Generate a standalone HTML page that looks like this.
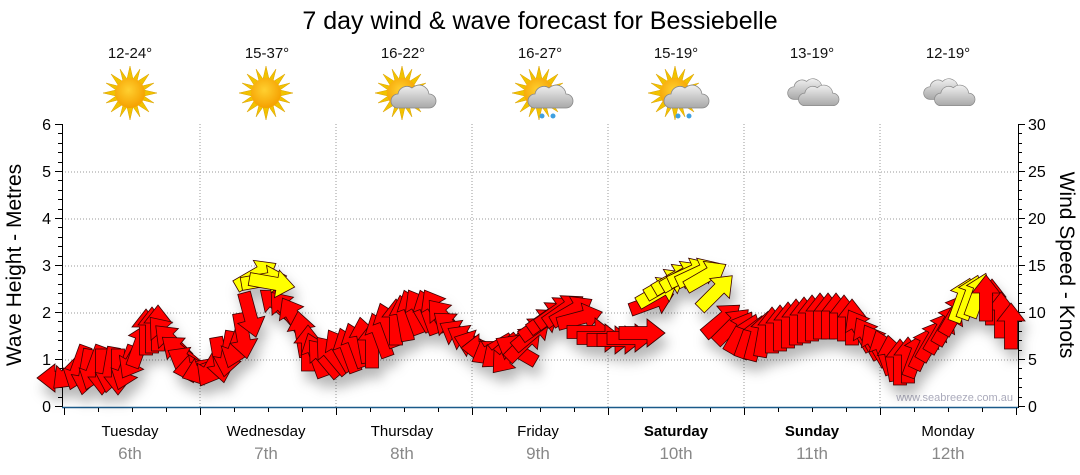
<!DOCTYPE html>
<html><head><meta charset="utf-8"><style>
body{margin:0;background:#fff;width:1080px;height:475px;overflow:hidden}
svg{display:block;font-family:"Liberation Sans","DejaVu Sans",sans-serif}
</style></head><body>
<svg width="1080" height="475" viewBox="0 0 1080 475" xmlns="http://www.w3.org/2000/svg">
<defs>
<radialGradient id="sg" cx="0.45" cy="0.4" r="0.6"><stop offset="0" stop-color="#ffd030"/><stop offset="1" stop-color="#f5a000"/></radialGradient>
<linearGradient id="cg" x1="0" y1="0" x2="0" y2="1"><stop offset="0" stop-color="#f0f0f0"/><stop offset="1" stop-color="#a8a8a8"/></linearGradient>
<g id="sun"><g fill="#f2c200" stroke="#d9a000" stroke-width="0.5">
<polygon points="0,-27 3,-14 -3,-14"/><polygon points="0,27 3,14 -3,14"/><polygon points="-27,0 -14,3 -14,-3"/><polygon points="27,0 14,3 14,-3"/>
<polygon points="19,-19 12,-8 8,-12"/><polygon points="-19,19 -12,8 -8,12"/><polygon points="19,19 8,12 12,8"/><polygon points="-19,-19 -8,-12 -12,-8"/>
<polygon points="10,-24 7,-12 3,-14"/><polygon points="-10,24 -7,12 -3,14"/><polygon points="24,10 12,7 14,3"/><polygon points="-24,-10 -12,-7 -14,-3"/>
<polygon points="-10,-24 -3,-14 -7,-12"/><polygon points="10,24 3,14 7,12"/><polygon points="24,-10 14,-3 12,-7"/><polygon points="-24,10 -14,3 -12,7"/></g>
<circle r="15" fill="url(#sg)"/></g>
<g id="cloud"><path d="M-14,10 a7,7 0 0 1 0,-14 a9,9 0 0 1 14,-6 a10,10 0 0 1 17,6 a7,7 0 0 1 0,14 z" fill="url(#cg)" stroke="#888" stroke-width="0.8"/></g>
<polygon id="ar" points="0,-23 14,-5 6.5,-5 6.5,23 -6.5,23 -6.5,-5 -14,-5" stroke="#3a0000" stroke-width="0.8" stroke-linejoin="miter"/>
<filter id="sh" x="-10%" y="-20%" width="120%" height="160%"><feDropShadow dx="4" dy="10" stdDeviation="6" flood-color="#000" flood-opacity="0.28"/></filter>
</defs>

<text x="540" y="29" text-anchor="middle" font-size="25" fill="#000">7 day wind &amp; wave forecast for Bessiebelle</text>
<g font-size="15" text-anchor="middle" fill="#111">
<text x="130" y="58">12-24°</text><text x="267" y="58">15-37°</text><text x="403" y="58">16-22°</text><text x="540" y="58">16-27°</text><text x="676" y="58">15-19°</text><text x="812" y="58">13-19°</text><text x="948" y="58">12-19°</text>
</g>
<use href="#sun" x="130" y="93"/><use href="#sun" x="266" y="93"/>
<use href="#sun" x="402" y="93"/><use href="#cloud" x="412" y="98"/>
<use href="#sun" x="539" y="93"/><use href="#cloud" x="549" y="98"/><circle cx="542" cy="116" r="2.5" fill="#3fa0e0"/><circle cx="553" cy="116" r="2.5" fill="#3fa0e0"/>
<use href="#sun" x="675" y="93"/><use href="#cloud" x="685" y="98"/><circle cx="678" cy="116" r="2.5" fill="#3fa0e0"/><circle cx="689" cy="116" r="2.5" fill="#3fa0e0"/>
<g transform="translate(812,94) scale(0.9)"><use href="#cloud" x="-6" y="-4"/><use href="#cloud" x="6" y="3"/></g>
<g transform="translate(948,94) scale(0.9)"><use href="#cloud" x="-6" y="-4"/><use href="#cloud" x="6" y="3"/></g>

<g stroke="#999" stroke-dasharray="1,2" stroke-width="1">
<line x1="62" y1="172" x2="1018" y2="172"/><line x1="62" y1="219" x2="1018" y2="219"/><line x1="62" y1="266" x2="1018" y2="266"/><line x1="62" y1="313" x2="1018" y2="313"/><line x1="62" y1="360" x2="1018" y2="360"/>
<line x1="200" y1="124" x2="200" y2="407"/><line x1="336" y1="124" x2="336" y2="407"/><line x1="472" y1="124" x2="472" y2="407"/><line x1="608" y1="124" x2="608" y2="407"/><line x1="744" y1="124" x2="744" y2="407"/><line x1="880" y1="124" x2="880" y2="407"/>
</g>
<line x1="62.5" y1="124" x2="62.5" y2="408" stroke="#000"/>
<line x1="1018.5" y1="124" x2="1018.5" y2="408" stroke="#000"/>
<line x1="62" y1="407.5" x2="1018" y2="407.5" stroke="#1a5a8a" stroke-width="1.5"/>
<g stroke="#000" stroke-width="1">
<path d="M55,124.5H62M55,171.5H62M55,218.5H62M55,265.5H62M55,312.5H62M55,359.5H62M55,406.5H62"/>
<path d="M58,133.5H62M58,143.5H62M58,152.5H62M58,162.5H62M58,180.5H62M58,190.5H62M58,199.5H62M58,209.5H62M58,227.5H62M58,237.5H62M58,246.5H62M58,256.5H62M58,274.5H62M58,284.5H62M58,293.5H62M58,303.5H62M58,321.5H62M58,331.5H62M58,340.5H62M58,350.5H62M58,368.5H62M58,378.5H62M58,387.5H62M58,397.5H62"/>
<path d="M1018,124.5H1025M1018,171.5H1025M1018,218.5H1025M1018,265.5H1025M1018,312.5H1025M1018,359.5H1025M1018,406.5H1025"/>
<path d="M1018,133.5H1022M1018,143.5H1022M1018,152.5H1022M1018,162.5H1022M1018,180.5H1022M1018,190.5H1022M1018,199.5H1022M1018,209.5H1022M1018,227.5H1022M1018,237.5H1022M1018,246.5H1022M1018,256.5H1022M1018,274.5H1022M1018,284.5H1022M1018,293.5H1022M1018,303.5H1022M1018,321.5H1022M1018,331.5H1022M1018,340.5H1022M1018,350.5H1022M1018,368.5H1022M1018,378.5H1022M1018,387.5H1022M1018,397.5H1022"/>
<path d="M64.5,408V415M200.5,408V415M336.5,408V415M472.5,408V415M608.5,408V415M744.5,408V415M880.5,408V415M1016.5,408V415"/>
<path d="M98.5,408V412M132.5,408V412M166.5,408V412M234.5,408V412M268.5,408V412M302.5,408V412M370.5,408V412M404.5,408V412M438.5,408V412M506.5,408V412M540.5,408V412M574.5,408V412M642.5,408V412M676.5,408V412M710.5,408V412M778.5,408V412M812.5,408V412M846.5,408V412M914.5,408V412M948.5,408V412M982.5,408V412"/>
</g>
<g font-size="16" fill="#000" text-anchor="end">
<text x="51" y="130">6</text><text x="51" y="177">5</text><text x="51" y="224">4</text><text x="51" y="271">3</text><text x="51" y="318">2</text><text x="51" y="365">1</text><text x="51" y="412">0</text>
</g>
<g font-size="16" fill="#000" text-anchor="start">
<text x="1028" y="130">30</text><text x="1028" y="177">25</text><text x="1028" y="224">20</text><text x="1028" y="271">15</text><text x="1028" y="318">10</text><text x="1028" y="365">5</text><text x="1028" y="412">0</text>
</g>
<text transform="translate(21,265) rotate(-90)" font-size="21" text-anchor="middle">Wave Height - Metres</text>
<text transform="translate(1060,265) rotate(90)" font-size="21" text-anchor="middle">Wind Speed - Knots</text>
<g font-size="15" text-anchor="middle" fill="#000">
<text x="130" y="436">Tuesday</text><text x="266" y="436">Wednesday</text><text x="402" y="436">Thursday</text><text x="538" y="436">Friday</text><text x="676" y="436" font-weight="bold">Saturday</text><text x="812" y="436" font-weight="bold">Sunday</text><text x="948" y="436">Monday</text>
</g>
<g font-size="17" text-anchor="middle" fill="#888">
<text x="130" y="459">6th</text><text x="266" y="459">7th</text><text x="402" y="459">8th</text><text x="538" y="459">9th</text><text x="676" y="459">10th</text><text x="812" y="459">11th</text><text x="948" y="459">12th</text>
</g>
<text x="1013" y="401" font-size="11" fill="#aab" text-anchor="end">www.seabreeze.com.au</text>

<g filter="url(#sh)" fill="#ff0000">
<use href="#ar" transform="translate(60,378) rotate(-90)"/>
<use href="#ar" transform="translate(70,372) rotate(-135)"/>
<use href="#ar" transform="translate(78,368) rotate(200)"/>
<use href="#ar" transform="translate(86,372) rotate(190)"/>
<use href="#ar" transform="translate(94,368) rotate(200)"/>
<use href="#ar" transform="translate(102,372) rotate(180)"/>
<use href="#ar" transform="translate(110,370) rotate(190)"/>
<use href="#ar" transform="translate(118,372) rotate(180)"/>
<use href="#ar" transform="translate(126,368) rotate(200)"/>
<use href="#ar" transform="translate(134,358) rotate(210)"/>
<use href="#ar" transform="translate(140,345) rotate(20)"/>
<use href="#ar" transform="translate(146,332) rotate(0)"/>
<use href="#ar" transform="translate(152,330) rotate(0)"/>
<use href="#ar" transform="translate(158,328) rotate(0)"/>
<use href="#ar" transform="translate(165,335) rotate(-40)"/>
<use href="#ar" transform="translate(172,342) rotate(-45)"/>
<use href="#ar" transform="translate(180,352) rotate(-50)"/>
<use href="#ar" transform="translate(188,362) rotate(-60)"/>
<use href="#ar" transform="translate(196,368) rotate(-100)"/>
<use href="#ar" transform="translate(204,370) rotate(-110)"/>
<use href="#ar" transform="translate(212,366) rotate(-150)"/>
<use href="#ar" transform="translate(220,360) rotate(170)"/>
<use href="#ar" transform="translate(228,354) rotate(190)"/>
<use href="#ar" transform="translate(236,346) rotate(200)"/>
<use href="#ar" transform="translate(243,336) rotate(170)"/>
<use href="#ar" transform="translate(250,315) rotate(165)"/>
<use href="#ar" transform="translate(278,305) rotate(-50)"/>
<use href="#ar" transform="translate(286,310) rotate(-40)"/>
<use href="#ar" transform="translate(294,318) rotate(-30)"/>
<use href="#ar" transform="translate(302,334) rotate(-10)"/>
<use href="#ar" transform="translate(308,348) rotate(0)"/>
<use href="#ar" transform="translate(316,355) rotate(-20)"/>
<use href="#ar" transform="translate(324,358) rotate(-40)"/>
<use href="#ar" transform="translate(332,355) rotate(-40)"/>
<use href="#ar" transform="translate(340,350) rotate(-30)"/>
<use href="#ar" transform="translate(348,350) rotate(-20)"/>
<use href="#ar" transform="translate(356,345) rotate(-20)"/>
<use href="#ar" transform="translate(364,340) rotate(-10)"/>
<use href="#ar" transform="translate(372,345) rotate(0)"/>
<use href="#ar" transform="translate(380,335) rotate(-20)"/>
<use href="#ar" transform="translate(388,325) rotate(-20)"/>
<use href="#ar" transform="translate(396,322) rotate(0)"/>
<use href="#ar" transform="translate(404,318) rotate(-10)"/>
<use href="#ar" transform="translate(412,312) rotate(-20)"/>
<use href="#ar" transform="translate(420,310) rotate(-30)"/>
<use href="#ar" transform="translate(428,312) rotate(-20)"/>
<use href="#ar" transform="translate(436,310) rotate(-30)"/>
<use href="#ar" transform="translate(444,318) rotate(-40)"/>
<use href="#ar" transform="translate(452,328) rotate(-50)"/>
<use href="#ar" transform="translate(460,335) rotate(-60)"/>
<use href="#ar" transform="translate(468,340) rotate(-60)"/>
<use href="#ar" transform="translate(476,345) rotate(-70)"/>
<use href="#ar" transform="translate(484,348) rotate(-90)"/>
<use href="#ar" transform="translate(492,350) rotate(-120)"/>
<use href="#ar" transform="translate(500,352) rotate(-130)"/>
<use href="#ar" transform="translate(508,355) rotate(-140)"/>
<use href="#ar" transform="translate(516,350) rotate(-60)"/>
<use href="#ar" transform="translate(524,343) rotate(45)"/>
<use href="#ar" transform="translate(532,333) rotate(50)"/>
<use href="#ar" transform="translate(540,324) rotate(55)"/>
<use href="#ar" transform="translate(548,317) rotate(55)"/>
<use href="#ar" transform="translate(556,312) rotate(55)"/>
<use href="#ar" transform="translate(564,310) rotate(55)"/>
<use href="#ar" transform="translate(572,311) rotate(60)"/>
<use href="#ar" transform="translate(580,318) rotate(75)"/>
<use href="#ar" transform="translate(590,332) rotate(90)"/>
<use href="#ar" transform="translate(600,338) rotate(90)"/>
<use href="#ar" transform="translate(610,340) rotate(90)"/>
<use href="#ar" transform="translate(620,340) rotate(90)"/>
<use href="#ar" transform="translate(630,338) rotate(90)"/>
<use href="#ar" transform="translate(642,333) rotate(90)"/>
<use href="#ar" transform="translate(652,302) rotate(70)"/>
<use href="#ar" transform="translate(722,320) rotate(50)"/>
<use href="#ar" transform="translate(732,326) rotate(45)"/>
<use href="#ar" transform="translate(740,332) rotate(30)"/>
<use href="#ar" transform="translate(748,336) rotate(20)"/>
<use href="#ar" transform="translate(756,338) rotate(15)"/>
<use href="#ar" transform="translate(764,334) rotate(10)"/>
<use href="#ar" transform="translate(772,330) rotate(0)"/>
<use href="#ar" transform="translate(780,328) rotate(0)"/>
<use href="#ar" transform="translate(788,325) rotate(0)"/>
<use href="#ar" transform="translate(796,322) rotate(0)"/>
<use href="#ar" transform="translate(804,320) rotate(0)"/>
<use href="#ar" transform="translate(812,318) rotate(0)"/>
<use href="#ar" transform="translate(820,316) rotate(0)"/>
<use href="#ar" transform="translate(828,316) rotate(0)"/>
<use href="#ar" transform="translate(836,316) rotate(0)"/>
<use href="#ar" transform="translate(844,318) rotate(0)"/>
<use href="#ar" transform="translate(852,322) rotate(0)"/>
<use href="#ar" transform="translate(860,330) rotate(-30)"/>
<use href="#ar" transform="translate(868,338) rotate(-30)"/>
<use href="#ar" transform="translate(876,345) rotate(-30)"/>
<use href="#ar" transform="translate(884,352) rotate(-20)"/>
<use href="#ar" transform="translate(892,358) rotate(-10)"/>
<use href="#ar" transform="translate(900,362) rotate(0)"/>
<use href="#ar" transform="translate(908,360) rotate(0)"/>
<use href="#ar" transform="translate(916,355) rotate(20)"/>
<use href="#ar" transform="translate(924,348) rotate(25)"/>
<use href="#ar" transform="translate(932,340) rotate(30)"/>
<use href="#ar" transform="translate(940,332) rotate(30)"/>
<use href="#ar" transform="translate(948,324) rotate(30)"/>
<use href="#ar" transform="translate(955,314) rotate(30)"/>
<use href="#ar" transform="translate(992,302) rotate(0)"/>
<use href="#ar" transform="translate(1001,315) rotate(0)"/>
<use href="#ar" transform="translate(1011,326) rotate(0)"/>
<g fill="#ffff00">
<use href="#ar" transform="translate(256,275) rotate(60)"/>
<use href="#ar" transform="translate(264,280) rotate(80)"/>
<use href="#ar" transform="translate(272,283) rotate(100)"/>
<use href="#ar" transform="translate(658,292) rotate(60)"/>
<use href="#ar" transform="translate(666,284) rotate(60)"/>
<use href="#ar" transform="translate(674,279) rotate(60)"/>
<use href="#ar" transform="translate(682,276) rotate(60)"/>
<use href="#ar" transform="translate(690,273) rotate(65)"/>
<use href="#ar" transform="translate(698,273) rotate(65)"/>
<use href="#ar" transform="translate(706,276) rotate(60)"/>
<use href="#ar" transform="translate(716,292) rotate(45)"/>
<use href="#ar" transform="translate(962,300) rotate(20)"/>
<use href="#ar" transform="translate(970,297) rotate(20)"/>
<use href="#ar" transform="translate(978,295) rotate(20)"/>
</g>
<use href="#ar" transform="translate(986,298) rotate(0)"/>
</g>
</svg>
</body></html>
